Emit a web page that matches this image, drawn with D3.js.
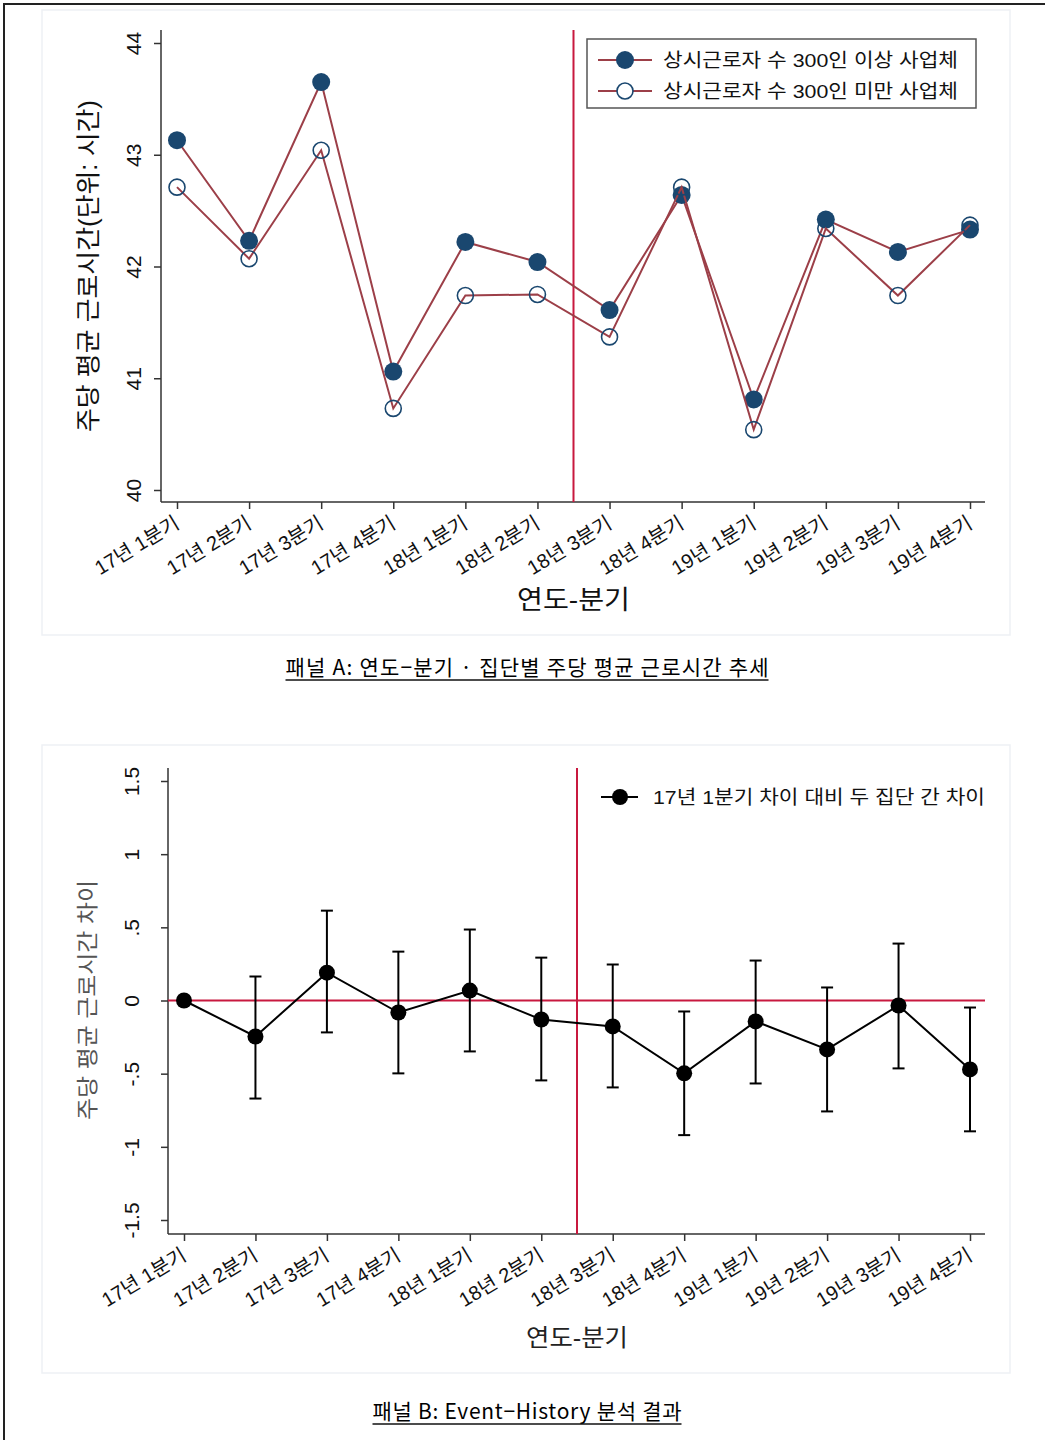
<!DOCTYPE html>
<html>
<head>
<meta charset="utf-8">
<script src="https://cdn.jsdelivr.net/npm/d3@7"></script>
<style>
  body { margin: 0; background: #fff; }
  svg { display: block; }
  text { font-family: "Liberation Sans", "Noto Sans CJK KR", sans-serif; }
</style>
</head>
<body>
<div id="chart"></div>
<script>
// quarters on the x axis (same for both panels)
const quarters = ["17년 1분기", "17년 2분기", "17년 3분기", "17년 4분기",
  "18년 1분기", "18년 2분기", "18년 3분기", "18년 4분기",
  "19년 1분기", "19년 2분기", "19년 3분기", "19년 4분기"];

// panel A: weekly average hours by group
const large = [43.13, 42.23, 43.65, 41.06, 42.22, 42.04, 41.61, 42.64, 40.81, 42.42, 42.13, 42.33];
const small = [42.71, 42.07, 43.04, 40.73, 41.74, 41.75, 41.37, 42.71, 40.54, 42.34, 41.74, 42.37];
const ticksA = [40, 41, 42, 43, 44];

// panel B: difference vs 17Q1 with confidence intervals
const diff = [0, -0.246, 0.19, -0.082, 0.068, -0.13, -0.177, -0.498, -0.143, -0.334, -0.034, -0.471];
const ciLow = [null, -0.67, -0.218, -0.498, -0.348, -0.546, -0.594, -0.92, -0.567, -0.758, -0.464, -0.894];
const ciHigh = [null, 0.164, 0.614, 0.334, 0.485, 0.293, 0.246, -0.075, 0.273, 0.089, 0.389, -0.048];
const ticksB = [-1.5, -1, -0.5, 0, 0.5, 1, 1.5];

const navy = "#1a476f";
const maroon = "#9c3f48";
const red = "#c8193f";
const axisColor = "#333";

const svg = d3.select("#chart").append("svg")
  .attr("width", 1045)
  .attr("height", 1440);

// outer frame
svg.append("rect")
  .attr("x", 4).attr("y", 4)
  .attr("width", 1060).attr("height", 1460)
  .attr("fill", "none").attr("stroke", "#222").attr("stroke-width", 2);

// panel backgrounds
svg.append("rect").attr("x", 42).attr("y", 10).attr("width", 968).attr("height", 625)
  .attr("fill", "#fff").attr("stroke", "#eef1f5").attr("stroke-width", 1.5);
svg.append("rect").attr("x", 42).attr("y", 745).attr("width", 968).attr("height", 628)
  .attr("fill", "#fff").attr("stroke", "#eef1f5").attr("stroke-width", 1.5);

function drawAxes(g, x, y, opts) {
  // y axis
  const yAxis = g.append("g")
    .attr("transform", `translate(${opts.left},0)`)
    .call(d3.axisLeft(y).tickValues(opts.yTicks).tickSize(7).tickSizeOuter(0)
      .tickFormat(opts.yFormat));
  yAxis.select(".domain").remove();
  yAxis.selectAll("line").attr("stroke", axisColor).attr("stroke-width", 1.5);
  yAxis.selectAll("text")
    .attr("x", null).attr("dy", null)
    .attr("transform", `translate(${opts.yLabelOff},0) rotate(-90)`)
    .attr("text-anchor", "middle")
    .attr("dy", "0.36em")
    .attr("font-size", opts.yFontSize)
    .attr("fill", "#111");
  g.append("line")
    .attr("x1", opts.left).attr("x2", opts.left)
    .attr("y1", opts.top).attr("y2", opts.bottom)
    .attr("stroke", axisColor).attr("stroke-width", 1.5);

  // x axis
  const xAxis = g.append("g")
    .attr("transform", `translate(0,${opts.bottom})`)
    .call(d3.axisBottom(x).tickSize(7).tickSizeOuter(0));
  xAxis.select(".domain").remove();
  xAxis.selectAll("line").attr("stroke", axisColor).attr("stroke-width", 1.5);
  xAxis.selectAll("text")
    .attr("y", null).attr("dy", null)
    .attr("transform", "translate(-4,13) rotate(-31)")
    .attr("text-anchor", "end")
    .attr("dy", "0.7em")
    .attr("font-size", 20)
    .attr("fill", "#111");
  g.append("line")
    .attr("x1", opts.left).attr("x2", opts.right)
    .attr("y1", opts.bottom).attr("y2", opts.bottom)
    .attr("stroke", axisColor).attr("stroke-width", 1.5);
}

// ---------------- Panel A ----------------
const gA = svg.append("g");
const xA = d3.scalePoint().domain(quarters).range([177, 970]);
const yA = d3.scaleLinear().domain([40, 44]).range([490, 43]);

drawAxes(gA, xA, yA, {
  left: 161, right: 985, top: 30, bottom: 502,
  yTicks: ticksA, yFormat: d3.format("d"), yLabelOff: -28, yFontSize: 21
});

// event line between 18Q2 and 18Q3
const eventA = (xA(quarters[5]) + xA(quarters[6])) / 2;
gA.append("line")
  .attr("x1", eventA).attr("x2", eventA)
  .attr("y1", 30).attr("y2", 502)
  .attr("stroke", red).attr("stroke-width", 2);

const lineA = d3.line().x((d, i) => xA(quarters[i])).y(d => yA(d));

gA.append("path").datum(large).attr("d", lineA)
  .attr("fill", "none").attr("stroke", maroon).attr("stroke-width", 2);
gA.selectAll("circle.large").data(large).join("circle")
  .attr("class", "large")
  .attr("cx", (d, i) => xA(quarters[i])).attr("cy", d => yA(d))
  .attr("r", 9).attr("fill", navy);

gA.append("path").datum(small).attr("d", lineA)
  .attr("fill", "none").attr("stroke", maroon).attr("stroke-width", 2);
gA.selectAll("circle.small").data(small).join("circle")
  .attr("class", "small")
  .attr("cx", (d, i) => xA(quarters[i])).attr("cy", d => yA(d))
  .attr("r", 8).attr("fill", "none").attr("stroke", navy).attr("stroke-width", 1.6);

// legend A
const legA = gA.append("g");
legA.append("rect").attr("x", 587).attr("y", 39).attr("width", 389).attr("height", 69)
  .attr("fill", "#fff").attr("stroke", "#555").attr("stroke-width", 1.5);
[["상시근로자 수 300인 이상 사업체", true, 60], ["상시근로자 수 300인 미만 사업체", false, 91]]
  .forEach(([label, filled, yy]) => {
    legA.append("line").attr("x1", 598).attr("x2", 652).attr("y1", yy).attr("y2", yy)
      .attr("stroke", maroon).attr("stroke-width", 2);
    legA.append("circle").attr("cx", 625).attr("cy", yy).attr("r", filled ? 9 : 8)
      .attr("fill", filled ? navy : "#fff")
      .attr("stroke", filled ? "none" : navy).attr("stroke-width", 1.6);
    legA.append("text").attr("x", 663).attr("y", yy).attr("dy", "0.36em")
      .attr("font-size", 19).attr("fill", "#111")
      .attr("textLength", 295).attr("lengthAdjust", "spacingAndGlyphs")
      .text(label);
  });

// axis titles A
gA.append("text")
  .attr("transform", "translate(88,266) rotate(-90)")
  .attr("text-anchor", "middle").attr("dy", "0.36em")
  .attr("font-size", 25).attr("fill", "#111")
  .attr("textLength", 332).attr("lengthAdjust", "spacingAndGlyphs")
  .text("주당 평균 근로시간(단위: 시간)");
gA.append("text")
  .attr("x", eventA).attr("y", 600).attr("dy", "0.36em")
  .attr("text-anchor", "middle").attr("font-size", 26).attr("fill", "#111")
  .attr("textLength", 113).attr("lengthAdjust", "spacingAndGlyphs")
  .text("연도-분기");

// ---------------- Panel B ----------------
const gB = svg.append("g");
const xB = d3.scalePoint().domain(quarters).range([184, 970]);
const yB = d3.scaleLinear().domain([-1.5, 1.5]).range([1220, 781]);

const fmtB = d => d === 0 ? "0" : (Number.isInteger(d) ? String(d) : String(d).replace("0.", "."));

drawAxes(gB, xB, yB, {
  left: 168, right: 985, top: 768, bottom: 1234,
  yTicks: ticksB, yFormat: fmtB, yLabelOff: -37, yFontSize: 21
});

const eventB = (xB(quarters[5]) + xB(quarters[6])) / 2;
gB.append("line")
  .attr("x1", eventB).attr("x2", eventB)
  .attr("y1", 768).attr("y2", 1234)
  .attr("stroke", red).attr("stroke-width", 2);
gB.append("line")
  .attr("x1", 168).attr("x2", 985)
  .attr("y1", yB(0)).attr("y2", yB(0))
  .attr("stroke", red).attr("stroke-width", 2);

// error bars
const bars = gB.selectAll("g.ci").data(diff.map((d, i) => ({ q: quarters[i], lo: ciLow[i], hi: ciHigh[i] }))
  .filter(d => d.lo !== null)).join("g").attr("class", "ci");
bars.append("line")
  .attr("x1", d => xB(d.q)).attr("x2", d => xB(d.q))
  .attr("y1", d => yB(d.hi)).attr("y2", d => yB(d.lo))
  .attr("stroke", "#000").attr("stroke-width", 2);
[d => d.hi, d => d.lo].forEach(acc => {
  bars.append("line")
    .attr("x1", d => xB(d.q) - 6).attr("x2", d => xB(d.q) + 6)
    .attr("y1", d => yB(acc(d))).attr("y2", d => yB(acc(d)))
    .attr("stroke", "#000").attr("stroke-width", 2);
});

const lineB = d3.line().x((d, i) => xB(quarters[i])).y(d => yB(d));
gB.append("path").datum(diff).attr("d", lineB)
  .attr("fill", "none").attr("stroke", "#000").attr("stroke-width", 2);
gB.selectAll("circle.pt").data(diff).join("circle")
  .attr("class", "pt")
  .attr("cx", (d, i) => xB(quarters[i])).attr("cy", d => yB(d))
  .attr("r", 8).attr("fill", "#000");

// legend B
gB.append("line").attr("x1", 601).attr("x2", 638).attr("y1", 797).attr("y2", 797)
  .attr("stroke", "#000").attr("stroke-width", 2);
gB.append("circle").attr("cx", 620).attr("cy", 797).attr("r", 8).attr("fill", "#000");
gB.append("text").attr("x", 653).attr("y", 797).attr("dy", "0.36em")
  .attr("font-size", 19).attr("fill", "#111")
  .attr("textLength", 332).attr("lengthAdjust", "spacingAndGlyphs")
  .text("17년 1분기 차이 대비 두 집단 간 차이");

// axis titles B
gB.append("text")
  .attr("transform", "translate(87,1000) rotate(-90)")
  .attr("text-anchor", "middle").attr("dy", "0.36em")
  .attr("font-size", 22).attr("fill", "#555")
  .attr("textLength", 240).attr("lengthAdjust", "spacingAndGlyphs")
  .text("주당 평균 근로시간 차이");
gB.append("text")
  .attr("x", eventB).attr("y", 1337).attr("dy", "0.36em")
  .attr("text-anchor", "middle").attr("font-size", 24).attr("fill", "#222")
  .attr("textLength", 102).attr("lengthAdjust", "spacingAndGlyphs")
  .text("연도-분기");

// ---------------- captions ----------------
function caption(text, cx, y, len) {
  svg.append("text")
    .attr("x", cx).attr("y", y)
    .attr("text-anchor", "middle")
    .attr("font-size", 21)
    .attr("fill", "#000")
    .attr("textLength", len)
    .attr("lengthAdjust", "spacing")
    .style("font-family", "'Noto Sans CJK KR', sans-serif")
    .text(text);
  svg.append("line")
    .attr("x1", cx - len / 2).attr("x2", cx + len / 2)
    .attr("y1", y + 5).attr("y2", y + 5)
    .attr("stroke", "#111").attr("stroke-width", 1.3);
}
caption("패널 A: 연도−분기 · 집단별 주당 평균 근로시간 추세", 527, 675, 483);
caption("패널 B: Event−History 분석 결과", 527, 1419, 309);
</script>
</body>
</html>
